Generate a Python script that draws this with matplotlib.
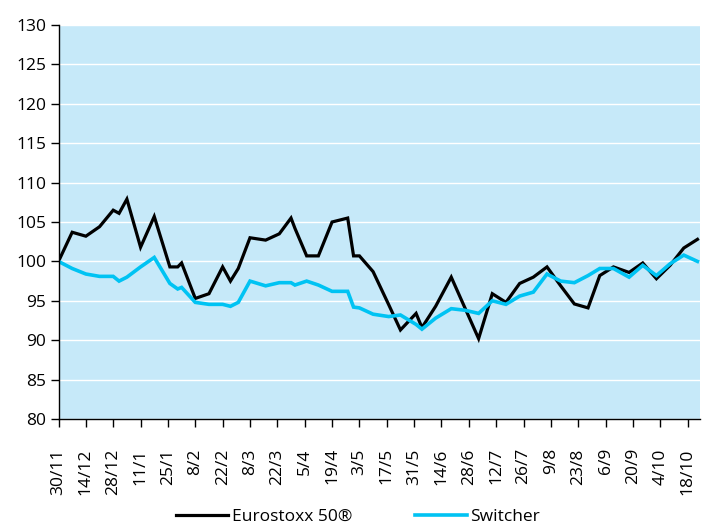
import matplotlib
matplotlib.use("Agg")
import matplotlib.pyplot as plt
import pandas as pd

plt.rcParams["font.family"] = ["Open Sans", "DejaVu Sans"]

# data: observation dates and index levels (start = 100)
dates = [
    "2001-11-30", "2001-12-07", "2001-12-14", "2001-12-21", "2001-12-28", "2001-12-31",
    "2002-01-04", "2002-01-11", "2002-01-18", "2002-01-26", "2002-01-30", "2002-02-01",
    "2002-02-08", "2002-02-15", "2002-02-22", "2002-02-26", "2002-03-02", "2002-03-08",
    "2002-03-16", "2002-03-23", "2002-03-29", "2002-03-31", "2002-04-06", "2002-04-12",
    "2002-04-19", "2002-04-27", "2002-04-30", "2002-05-03", "2002-05-10", "2002-05-18",
    "2002-05-24", "2002-06-01", "2002-06-04", "2002-06-11", "2002-06-19", "2002-06-26",
    "2002-07-03", "2002-07-10", "2002-07-17", "2002-07-24", "2002-07-31", "2002-08-07",
    "2002-08-14", "2002-08-21", "2002-08-28", "2002-09-03", "2002-09-10", "2002-09-18",
    "2002-09-25", "2002-10-02", "2002-10-09", "2002-10-16", "2002-10-23",
]
eurostoxx = [
    100.0, 103.7, 103.2, 104.4, 106.5, 106.1,
    107.9, 101.8, 105.7, 99.3, 99.3, 99.8,
    95.3, 95.9, 99.3, 97.5, 99.1, 103.0,
    102.7, 103.5, 105.5, 104.2, 100.7, 100.7,
    105.0, 105.5, 100.7, 100.7, 98.7, 94.5,
    91.3, 93.4, 91.6, 94.3, 98.0, 94.1,
    90.2, 95.9, 94.8, 97.2, 98.0, 99.3,
    96.9, 94.6, 94.1, 98.2, 99.3, 98.6,
    99.8, 97.8, 99.5, 101.7, 102.8,
]
switcher = [
    100.0, 99.1, 98.4, 98.1, 98.1, 97.5,
    98.0, 99.3, 100.5, 97.2, 96.5, 96.7,
    94.8, 94.55, 94.55, 94.3, 94.8, 97.5,
    96.9, 97.3, 97.3, 97.0, 97.5, 97.0,
    96.2, 96.2, 94.2, 94.1, 93.3, 93.0,
    93.2, 92.0, 91.4, 92.8, 94.0, 93.8,
    93.4, 95.0, 94.55, 95.6, 96.1, 98.4,
    97.5, 97.3, 98.2, 99.1, 99.1, 98.0,
    99.5, 98.2, 99.7, 100.8, 100.0,
]
tick_labels = [
    "30/11", "14/12", "28/12", "11/1", "25/1", "8/2", "22/2", "8/3", "22/3", "5/4",
    "19/4", "3/5", "17/5", "31/5", "14/6", "28/6", "12/7", "26/7", "9/8", "23/8",
    "6/9", "20/9", "4/10", "18/10",
]

x = pd.to_datetime(dates)
start = x[0]
ticks = [start + pd.Timedelta(days=14 * i) for i in range(len(tick_labels))]

fig = plt.figure(figsize=(7.02, 5.24), dpi=100)
ax = fig.add_axes([58.5 / 702, 1 - 419 / 524, (700 - 58.5) / 702, (419 - 25) / 524])
ax.set_facecolor("#C6E9F9")

ax.plot(x, eurostoxx, color="black", lw=2.3, label="Eurostoxx 50®", solid_joinstyle="miter")
ax.plot(x, switcher, color="#00C3F3", lw=2.6, label="Switcher", solid_joinstyle="miter")

ax.set_ylim(80, 130)
ax.set_yticks(range(80, 131, 5))
ax.set_xlim(start, start + pd.Timedelta(days=328.3))
ax.set_xticks(ticks)
ax.set_xticklabels(tick_labels, rotation=90)

ax.grid(axis="y", color="white", lw=1.0)
ax.set_axisbelow(True)
for side in ("top", "right"):
    ax.spines[side].set_visible(False)
for side in ("left", "bottom"):
    ax.spines[side].set_linewidth(1.0)
ax.tick_params(axis="y", length=6, width=1, labelsize=12.5, pad=3)
ax.tick_params(axis="x", length=6, width=1, labelsize=12.5, pad=15)

fig.legend(
    loc="center", bbox_to_anchor=(358 / 702, 1 - 517 / 524), ncol=2, frameon=False,
    fontsize=12.5, handlelength=3.0, handletextpad=0.2, columnspacing=3.6,
)

fig.savefig("out.png", dpi=100)
